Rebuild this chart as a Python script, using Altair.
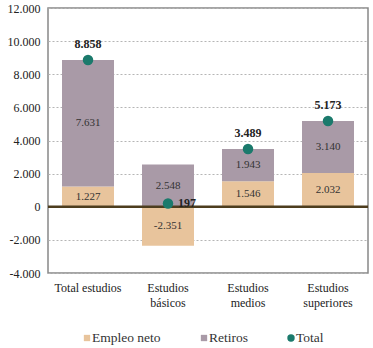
import altair as alt
import pandas as pd

categorias = ["Total estudios", "Estudios básicos", "Estudios medios", "Estudios superiores"]
empleo_neto = [1227, -2351, 1546, 2032]
retiros = [7631, 2548, 1943, 3140]
total = [8858, 197, 3489, 5173]
series = ["Empleo neto", "Retiros", "Total"]
colores = ["#e8c49c", "#a99aa7", "#1b7a6c"]
y_ticks = [-4000, -2000, 0, 2000, 4000, 6000, 8000, 10000, 12000]

FONT = "Liberation Serif"

rows = []
for c, e, r in zip(categorias, empleo_neto, retiros):
    rows.append({"cat": c, "serie": "Empleo neto", "valor": e, "y0": 0, "y1": e})
    base = e if e > 0 else 0
    rows.append({"cat": c, "serie": "Retiros", "valor": r, "y0": base, "y1": base + r})
bars = pd.DataFrame(rows)
bars["mid"] = (bars["y0"] + bars["y1"]) / 2

tot = pd.DataFrame({"cat": categorias, "valor": total, "serie": "Total"})
tot["right"] = [c == "Estudios básicos" for c in categorias]

lbl = "replace(replace(format(datum.valor, ','), ',', '.'), '\u2212', '-')"

color = alt.Color(
    "serie:N",
    scale=alt.Scale(domain=series, range=colores),
    legend=None,
)

x = alt.X(
    "cat:N", sort=categorias, title=None,
    scale=alt.Scale(paddingInner=0.35, paddingOuter=0.175),
    axis=alt.Axis(
        labelAngle=0, labelFont=FONT, labelFontSize=12, labelColor="#222",
        labelPadding=9, ticks=False, domain=False,
        labelExpr="datum.label == 'Total estudios' ? datum.label : split(datum.label, ' ')",
        labelLineHeight=15,
    ),
)
yscale = alt.Scale(domain=[-4000, 12000], nice=False)
yaxis = alt.Axis(values=y_ticks, labelFont=FONT, labelFontSize=12, labelColor="#222",
                 labelExpr="replace(replace(format(datum.value, ','), ',', '.'), '\u2212', '-')",
                 labelOverlap=False, ticks=False, domain=False, grid=True,
                 gridColor="#b5b5b5", gridDash=[2, 2], gridWidth=1, labelPadding=8)


def Y(field):
    return alt.Y(field, scale=yscale, title=None, axis=yaxis)


bar = alt.Chart(bars).mark_bar().encode(
    x=x, y=Y("y0:Q"), y2="y1:Q", color=color,
)

seg_text = alt.Chart(bars).transform_calculate(lab=lbl).mark_text(
    font=FONT, fontSize=11, color="#333"
).encode(x=x, y=Y("mid:Q"), text="lab:N")

zero = alt.Chart(pd.DataFrame({"z": [0]})).mark_rule(color="#4d3d1e", strokeWidth=2.5).encode(
    y=Y("z:Q")
)

pts = alt.Chart(tot).mark_circle(size=110, opacity=1).encode(
    x=x, y=Y("valor:Q"), color=color,
)

tot_text_top = alt.Chart(tot).transform_filter("!datum.right").transform_calculate(lab=lbl).mark_text(
    font=FONT, fontSize=12, fontWeight="bold", color="#222", dy=-16
).encode(x=x, y=Y("valor:Q"), text="lab:N")

tot_text_right = alt.Chart(tot).transform_filter("datum.right").transform_calculate(lab=lbl).mark_text(
    font=FONT, fontSize=12, fontWeight="bold", color="#222", align="left", dx=10, dy=0
).encode(x=x, y=Y("valor:Q"), text="lab:N")

# manual legend below the axis (layout positions in pixels)
leg_sym_x = [39, 156, 243]
leg_shapes = ["square", "square", "circle"]
leg_sizes = [40, 40, 55]
leg_y = 330
leg_layers = []
for name, col, sx, shp, sz in zip(series, colores, leg_sym_x, leg_shapes, leg_sizes):
    d = pd.DataFrame({"serie": [name]})
    leg_layers.append(
        alt.Chart(d).mark_point(shape=shp, filled=True, size=sz, color=col, opacity=1).encode(
            x=alt.value(sx), y=alt.value(leg_y)
        )
    )
    leg_layers.append(
        alt.Chart(d).mark_text(font=FONT, fontSize=13.5, color="#333", align="left",
                               baseline="middle").encode(
            x=alt.value(sx + 5), y=alt.value(leg_y), text="serie:N"
        )
    )

chart = alt.layer(bar, seg_text, zero, pts, tot_text_top, tot_text_right, *leg_layers).properties(
    width=320, height=265,
    autosize=alt.AutoSizeParams(type="none"),
    padding={"left": 48, "top": 8, "right": 5, "bottom": 75},
    background="white",
).configure(font=FONT).configure_view(stroke="#888888", strokeWidth=1.5)

chart.save("out.html", embed_options={"renderer": "svg", "actions": False})
